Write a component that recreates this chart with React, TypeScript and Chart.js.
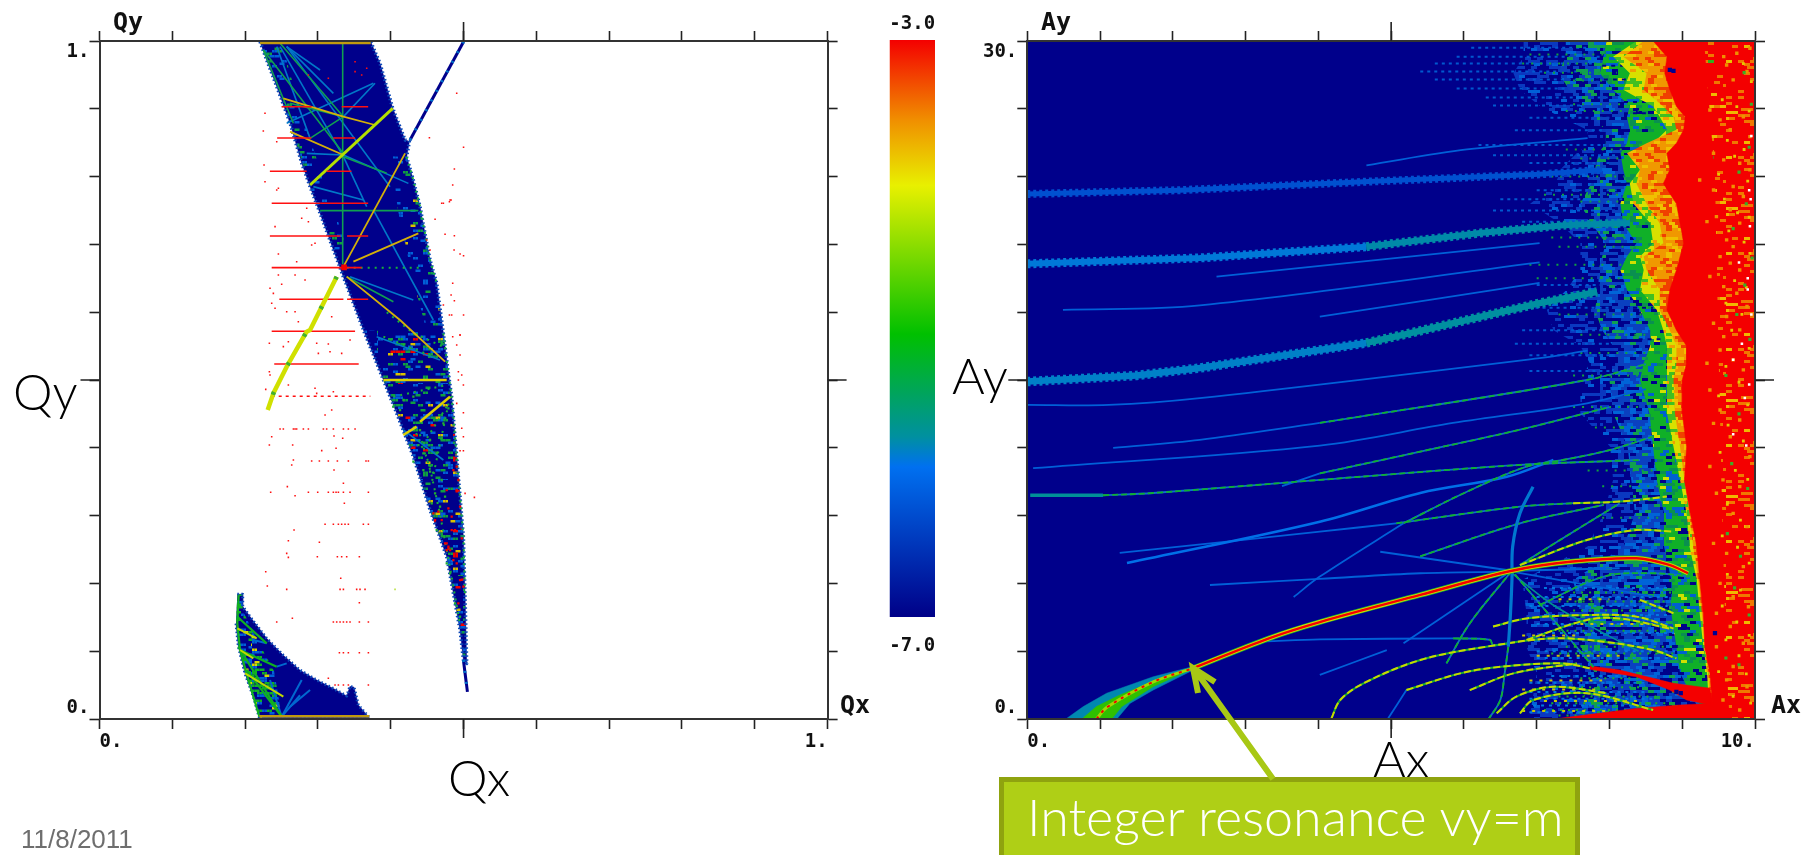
import React, { useEffect, useRef } from "react";
import { Chart, registerables } from "chart.js";

Chart.register(...registerables);

type Pt = number[];

// ---------- tune-space chart (Qx, Qy) ----------
const qTicks = { min: 0, max: 1, step: 0.1 };
const qBody: Pt[] = [[.2205,.999],[.2296,.972],[.2434,.933],[.2617,.879],[.2777,.82],[.2892,.785],[.3029,.746],[.3212,.692],[.335,.652],[.3487,.613],[.3625,.5737],[.39,.4999],[.4082,.4508],[.4311,.3869],[.454,.3082],[.4769,.2394],[.4952,.1312],[.4998,.087],[.5043,.082],[.5021,.1804],[.4998,.2689],[.4929,.3574],[.4883,.4164],[.4837,.4754],[.4792,.5098],[.4723,.5688],[.4631,.643],[.454,.677],[.4471,.716],[.4402,.756],[.431,.795],[.4219,.829],[.4256,.852],[.4197,.854],[.4027,.901],[.3853,.967],[.3725,.999]];
const qBodySpeckledLow: Pt[] = [[.3625,.5737],[.39,.4999],[.4082,.4508],[.4311,.3869],[.454,.3082],[.4769,.2394],[.4952,.1312],[.4998,.087],[.5043,.082],[.5021,.1804],[.4998,.2689],[.4929,.3574],[.4883,.4164],[.4837,.4754],[.4792,.5098],[.4723,.5688]];
const qBodySpeckledRight: Pt[] = [[.4219,.829],[.431,.795],[.4402,.756],[.454,.677],[.4631,.643],[.4723,.5688],[.45,.57],[.43,.65],[.41,.75],[.40,.83]];
const qBodySpeckledLeft: Pt[] = [[.2205,.999],[.2617,.879],[.2892,.785],[.3029,.746],[.3212,.692],[.34,.692],[.32,.76],[.30,.82],[.27,.92],[.25,.999]];
const qLowerBody: Pt[] = [[.1893,.184],[.1967,.184],[.1967,.166],[.2067,.151],[.2296,.119],[.2525,.094],[.2754,.072],[.2983,.0575],[.3212,.045],[.3395,.034],[.344,.048],[.3496,.047],[.3555,.0206],[.3706,.002],[.2196,.002],[.2113,.033],[.1999,.067],[.1907,.107],[.1875,.141]];
const qLowerSpeckled: Pt[] = [[.1875,.141],[.1893,.184],[.1967,.184],[.1967,.16],[.215,.12],[.24,.07],[.2502,.004],[.2196,.002],[.2113,.033],[.1999,.067],[.1907,.107]];
const qTails: Pt[][] = [[[.4265,.854],[.5,.999]],[[.4998,.087],[.5053,.04]]];
const qEdges: Pt[][] = [[[.2205,.997],[.3725,.997]],[[.2196,.004],[.3706,.004]]];
const qYellowGreen: Pt[][] = [[[.4027,.9007],[.2892,.7876]]];
const qYellowStreak: Pt[][] = [[[.3258,.6524],[.2892,.5737],[.2845,.5713],[.2571,.5197],[.2388,.4803],[.231,.4558]]];
const qYellow: Pt[][] = [[[.3899,.5],[.4769,.5]],[[.4402,.4385],[.4814,.4754]],[[.4173,.4189],[.4356,.4312]]];
const qOrange: Pt[][] = [[[.4197,.8343],[.335,.6672]],[[.3487,.6745],[.4379,.7163]],[[.3395,.6524],[.4127,.5885],[.4746,.527]],[[.2525,.9154],[.335,.8884],[.3784,.8761]],[[.2617,.8663],[.335,.8319]]];
const qGreen: Pt[][] = [[[.334,.9966],[.334,.672]],[[.303,.7498],[.4379,.7498]],[[.248,.9966],[.335,.8884]],[[.225,.9867],[.335,.834]],[[.225,.9867],[.2663,.8786]],[[.2892,.8564],[.335,.8884]],[[.3395,.6524],[.4036,.6155]],[[.2617,.9081],[.335,.8884]],[[.335,.8294],[.3945,.8048]]];
const qBlue: Pt[][] = [[[.2571,.9917],[.3212,.9228]],[[.2571,.9917],[.399,.785]],[[.248,.9917],[.335,.8294]],[[.335,.8319],[.4242,.79]],[[.3761,.7508],[.4585,.5885]],[[.2571,.8786],[.3761,.9376]],[[.335,.8294],[.367,.7557]],[[.3441,.6524],[.431,.618]],[[.3807,.5639],[.4677,.5295]],[[.4173,.4263],[.4723,.382]],[[.335,.8884],[.3784,.9376]],[[.2571,.9917],[.3029,.9572]],[[.2846,.8343],[.335,.8319]],[[.2937,.7852],[.3624,.7655]],[[.2434,.9917],[.2892,.8564]]];
const qGreenDashed: Pt[][] = [[[.3395,.6657],[.4448,.6657]],[[.4036,.4754],[.4769,.4926]],[[.4723,.5688],[.4792,.5098],[.4837,.4754],[.4883,.4164],[.4929,.3574],[.4998,.2689],[.5021,.1804]],[[.4219,.829],[.431,.795],[.4402,.756],[.4471,.716],[.454,.677],[.4631,.643]],[[.44,.42],[.456,.36],[.468,.3],[.482,.22],[.495,.14]],[[.4814,.4754],[.4566,.35]],[[.4769,.4607],[.4425,.4017]],[[.4311,.4312],[.4585,.3623]],[[.3899,.5639],[.4585,.5344]],[[.3945,.6],[.43,.57],[.47,.55]]];
const qGreenSpecks: Pt[] = [[.4036,.4606],[.4128,.4557],[.4174,.4705],[.4311,.4754],[.438,.4041],[.4448,.3918],[.4311,.3795],[.4448,.3672],[.454,.3648],[.47,.3525],[.4609,.3328],[.4563,.318],[.4677,.3131],[.4746,.3279],[.4631,.2787],[.4769,.2296],[.4815,.2148],[.4883,.1705],[.4952,.1509],[.4402,.4262],[.454,.4115],[.4631,.3918],[.4723,.436],[.4792,.4582]];
const qLowerGreen: Pt[][] = [[[.1907,.1067],[.2502,.0034]],[[.2022,.0723],[.2502,.0034]],[[.193,.1018],[.2434,.0772]],[[.1893,.1509],[.2296,.1116]],[[.1911,.1824],[.1893,.1411],[.193,.1018],[.2045,.0575],[.2196,.0034]]];
const qLowerYellow: Pt[][] = [[[.1893,.1337],[.2159,.1189]],[[.1999,.0674],[.2525,.0329]],[[.193,.1018],[.2113,.0895]]];
const qLowerBlue: Pt[][] = [[[.2502,.0034],[.2777,.0575]],[[.2502,.0034],[.2342,.0575]],[[.2502,.0034],[.2754,.035]],[[.2617,.0182],[.2892,.0428]],[[.2434,.0772],[.2571,.0821]],[[.2113,.1164],[.2296,.1116]]];
const qRedRows: Pt[] = [[.903,.25,.2914],[.903,.3326,.369],[.857,.244,.291],[.857,.321,.351],[.808,.234,.2846],[.808,.312,.346],[.7606,.2365,.303],[.7606,.303,.369],[.7124,.234,.331],[.7124,.34,.369],[.6657,.2365,.36],[.619,.247,.335],[.619,.34,.369],[.5718,.2365,.351],[.5236,.24,.356]];
const qRedDottedRows: Pt[] = [[.476,.2365,.372]];
const qRedColumns: Pt[] = [[.4277,.248,.2525,.2663,.2686,.2708,.28,.2869,.3075,.312,.3212,.335,.3418,.351],[.3805,.2914,.302,.3143,.3267,.3418,.366,.3693],[.3343,.2351,.2869,.2997,.3143,.3212,.3249,.3281,.335,.3441,.3693],[.2871,.3098,.3212,.3281,.3326,.3372,.3418,.3624,.3693],[.2394,.2992,.3267,.3326,.3395,.3569],[.1912,.2571,.3304,.335,.3532,.3578,.3647],[.1431,.2434,.3212,.3258,.3304,.335,.3395,.3441,.3569,.3693],[.0978,.3295,.335,.3418,.3569,.3693],[.0501,.3235,.3281,.335,.3418,.3693]];
const qRedDots: Pt[] = [[.2333,.5123],[.2342,.5074],[.2594,.4926],[.2283,.4862],[.296,.4877],[.2983,.4803],[.3212,.4828],[.3098,.4484],[.3189,.4558],[.2365,.4164],[.2333,.4041],[.2653,.4041],[.3221,.4174],[.334,.414],[.3052,.3958],[.3249,.3992],[.2663,.382],[.264,.3746],[.3221,.3672],[.335,.3476],[.258,.3427],[.2686,.3294],[.3363,.3181],[.2672,.2788],[.2594,.263],[.302,.2606],[.2571,.2443],[.2594,.2384],[.2283,.2173],[.3313,.2075],[.2305,.1962],[.3569,.1716],[.2649,.1485],[.3143,.06],[.3006,.5393],[.3166,.5418],[.3326,.5393],[.3441,.559],[.2333,.5541],[.2525,.5492],[.2594,.5565],[.2983,.5541],[.3143,.5531],[.2273,.8933],[.225,.8673],[.2434,.8515],[.226,.8171],[.2273,.7925],[.2434,.7802],[.2457,.7827],[.2846,.7532],[.2777,.7385],[.2869,.7335],[.2411,.7262],[.2914,.6991],[.296,.7016],[.2457,.6858],[.2708,.6745],[.2686,.6549],[.2823,.6475],[.2342,.6352],[.2457,.6549],[.2502,.6411],[.2388,.6278],[.2365,.6131],[.2411,.6057],[.2571,.6008],[.2686,.6008],[.3189,.5934],[.2731,.586],[.351,.9695],[.351,.9548],[.367,.9597],[.3601,.9499],[.3143,.945],[.2869,.9499],[.4531,.8574],[.4906,.9228],[.4874,.8112],[.4851,.7876],[.4723,.7606],[.4815,.7655],[.4609,.737],[.4746,.7149],[.487,.6917],[.4851,.6426],[.4837,.5959],[.4494,.7065],[.454,.6917],[.5,.8432],[.4829,.7655],[.4806,.763],[.47,.7606],[.4874,.7129],[.4952,.6858],[.5,.6834],[.4829,.6254],[.4874,.617],[.4723,.6106],[.4806,.5959],[.5,.5959],[.4952,.5664],[.4851,.5639],[.4952,.5663],[.4906,.5516],[.4952,.5368],[.4929,.5122],[.4975,.5073],[.4929,.4999],[.4998,.4926],[.4906,.4655],[.4998,.4518],[.4975,.4287],[.4998,.4164],[.4952,.3957],[.4998,.3957],[.5021,.3328],[.5149,.3269]];
const qRedInside: Pt[] = [[.486,.3672],[.4906,.3721],[.4929,.3525],[.4769,.3377],[.4654,.3058],[.4609,.2935],[.4792,.3107],[.4837,.2984],[.4792,.2541],[.4815,.2492],[.4746,.259],[.4906,.2296],[.4952,.205],[.4929,.1705],[.4998,.1951],[.4883,.2787],[.4975,.2664],[.4906,.3377],[.4952,.3131],[.4586,.3033],[.47,.2935],[.4837,.2787],[.4769,.259],[.486,.2345],[.4792,.2517],[.4769,.2492]];
const qRedKnot: Pt[] = [[.3359,.6662]];
const qStrayDot: Pt[] = [[.4059,.1912]];

// ---------- amplitude chart (Ax, Ay) ----------
const aFringeAy = [30,29.3,28.57,27.84,27.1,26.65,26.07,25.48,25.03,24.3,23.7,22.8,21.94,21.05,20.46,19.87,18.99,18.1,17.2,16.5,15.74,15.0,13.53,12.05,10.58,9.1,7.63,6.15,4.68,3.2,2.02,0];
const aBlueEdge = [6.82,6.82,6.68,6.77,7.05,7.32,7.69,7.73,7.55,7.32,7.27,6.91,7.32,7.6,7.6,7.6,7.41,7.14,7.23,7.6,7.73,7.6,7.6,8.01,8.05,7.92,7.7,6.8,6.86,6.86,7.0,6.9];
const aMidEdge = [7.4,7.4,7.3,7.45,7.6,7.75,7.95,7.95,7.85,7.8,7.75,7.6,7.75,7.95,7.9,7.85,7.85,7.8,7.9,8.05,8.1,8.0,8.05,8.25,8.3,8.35,8.2,7.5,7.6,7.6,7.8,7.5];
const aGreenEdge = [7.96,7.92,7.87,8.05,8.28,8.24,8.28,8.24,8.15,8.19,8.24,8.15,8.19,8.37,8.24,8.15,8.24,8.42,8.56,8.56,8.47,8.42,8.55,8.6,8.65,8.75,8.75,8.85,8.85,8.92,8.97,9.3];
const aYellowEdge = [8.37,8.05,8.28,8.19,8.6,8.69,8.79,8.6,8.28,8.42,8.28,8.33,8.56,8.6,8.42,8.47,8.42,8.65,8.74,8.79,8.79,8.79,8.79,8.88,8.97,9.06,9.1,9.2,9.24,9.29,9.34,9.38];
const aOrangeEdge = [8.47,8.19,8.51,8.47,8.74,8.88,8.92,8.51,8.24,8.42,8.37,8.51,8.69,8.74,8.47,8.51,8.69,8.69,8.83,8.92,8.92,8.88,8.9,8.97,9.03,9.1,9.15,9.22,9.27,9.31,9.36,9.4];
const aRedEdge = [8.6,8.79,8.76,8.83,8.92,9.04,9.02,8.92,8.79,8.83,8.74,8.92,8.97,9.02,8.97,8.92,8.83,8.79,8.92,9.06,9.06,9.0,9.0,9.06,9.03,9.11,9.2,9.24,9.29,9.31,9.38,9.43];
const aSpeckBand: Pt[] = [[9.3,30],[9.45,24],[9.5,16],[9.55,9],[9.6,3],[9.65,0],[10,0],[10,30]];
const aRedWedge: Pt[] = [[7.73,2.35],[8.14,2.17],[8.88,1.58],[9.38,1.36],[9.43,.6],[9.06,.84],[8.83,1.28],[8.37,1.87],[7.73,2.2]];
const aRedFoot: Pt[] = [[7.32,.03],[8.37,.47],[8.97,.62],[9.43,.7],[9.43,0]];
const aTealWedge: Pt[] = [[.53,0],[.77,.55],[1.09,1.14],[1.73,1.87],[2.28,2.32],[2.28,2.17],[1.73,1.28],[1.41,.69],[1.23,0]];
const aGreenWedge: Pt[] = [[.75,0],[.95,.55],[1.27,1.06],[1.73,1.65],[2.28,2.24],[1.73,1.43],[1.3,.55],[1.16,0]];
const aBandA: Pt[] = [[0,23.23],[2.1,23.4],[4.84,23.8],[7.04,24.1],[7.9,24.3]];
const aBandBLeft: Pt[] = [[0,20.14],[2.37,20.4],[4.66,20.9]];
const aBandBRight: Pt[] = [[4.66,20.9],[6.22,21.5],[7.37,21.85],[8.28,21.95]];
const aBandCLeft: Pt[] = [[0,14.93],[1.5,15.2],[2.37,15.53],[4.66,16.64]];
const aBandCRight: Pt[] = [[4.66,16.64],[5.16,17.0],[7.04,18.4],[7.83,18.9]];
const aTealStub: Pt[][] = [[[.04,9.9],[1.04,9.9]]];
const aMainResonance: Pt[] = [[2.28,2.25],[3.33,3.58],[4.02,4.29],[5.4,5.49],[6.66,6.56],[7.46,6.96],[8.37,7.11],[8.83,6.81],[9.08,6.45]];
const aMainStart: Pt[] = [[.95,0],[1.1,.53],[1.73,1.64],[2.28,2.25]];
const aVerticalArc: Pt[] = [[6.95,10.28],[6.77,9.1],[6.67,7.63],[6.66,6.15],[6.64,4.68],[6.61,3.2]];
const aBlueThin: Pt[][] = [
  [[4.66,24.5],[6.04,25.2],[7.7,25.7]],
  [[2.6,19.57],[7.04,21.06]],
  [[.49,18.1],[2.37,18.3],[7.04,20.2]],
  [[4.02,17.8],[7.04,19.3]],
  [[0,13.9],[1.12,13.9],[2.37,14.2],[7.04,15.97],[7.7,16.3]],
  [[.08,11.1],[4.02,12.1],[5.85,13.1],[7.69,13.97],[8.5,14.6]],
  [[1.18,12.0],[2.37,12.35],[4.02,13.1]],
  [[3.5,10.3],[4.02,10.87]],
  [[3.66,5.4],[4.02,6.3],[5.17,8.66]],
  [[1.27,7.35],[4.02,8.29],[5.07,8.66]],
  [[2.51,5.93],[4.02,6.2],[5.4,6.45],[6.63,6.52]],
  [[3.28,3.44],[4.02,3.52],[5.85,3.57]],
  [[4.96,.03],[5.21,1.28]],
  [[4.02,1.95],[4.94,3.05]],
  [[4.85,7.4],[6.66,6.56]],
  [[5.17,3.35],[6.58,6.4]],
  [[6.7,6.5],[8.6,5.41]],
  [[6.7,6.56],[8.14,6.67]],
];
const aBlueBold: Pt[][] = [[[1.37,6.9],[4.02,8.73],[5.4,10],[6.59,10.72],[7.23,11.46]]];
const aGreenThin: Pt[][] = [
  [[4.02,13.1],[7.69,15.0],[8.5,15.7]],
  [[4.02,10.87],[5.4,11.83],[6.77,12.8],[8.0,13.8]],
  [[1.04,9.9],[1.73,10],[4.02,10.58],[6.77,11.24],[8.42,11.46]],
  [[5.17,8.66],[5.99,9.98],[6.86,11.17],[7.36,11.46],[8.0,11.9],[8.6,12.5]],
  [[5.07,8.66],[6.77,9.4],[7.5,9.55]],
  [[5.4,7.2],[6.77,8.66],[7.92,9.47]],
  [[6.77,6.81],[7.46,8.2],[8.14,9.54]],
  [[7.04,5.04],[7.92,6.3],[8.6,6.45],[9.1,6.3]],
  [[5.85,3.57],[6.36,3.5],[6.4,3.27],[6.63,3.35]],
  [[6.66,6.56],[6.08,4.23],[5.76,2.46]],
  [[6.7,6.4],[7.78,2.3]],
  [[6.61,3.2],[6.56,2.02],[6.5,.84],[6.34,0]],
];
const aYellowThin: Pt[][] = [
  [[7.5,9.55],[8.14,9.62],[8.79,9.84]],
  [[6.77,6.81],[7.69,7.92],[8.37,8.36],[8.88,8.29]],
  [[4.18,.03],[4.3,.84],[4.62,1.58],[5.4,2.61],[6.31,3.2],[7.23,3.57],[7.92,3.42],[8.6,3.05],[8.92,2.68]],
  [[5.21,1.28],[5.95,2.02],[6.54,2.32],[7.37,2.46],[7.73,2.24]],
  [[6.08,1.28],[6.68,2.02],[7.55,2.46]],
  [[6.45,.25],[6.72,.99],[7.23,1.43],[7.96,1.14]],
  [[6.77,.25],[6.95,.84],[7.69,1.14],[8.6,.4]],
  [[6.4,4.09],[6.86,4.45],[7.69,4.6],[8.37,4.53],[8.88,4.0]],
  [[6.86,3.5],[7.69,4.38],[8.14,4.45],[8.83,4.0]],
  [[8.42,5.27],[8.88,4.68]],
];
const aTealThin: Pt[][] = [[[6.64,6.5],[7.2,5.1],[7.8,4.0],[8.4,3.0]]];
const aBlueRows: Pt[] = [[29.7,6.1,8],[29.3,5.9,8],[29,5.6,8],[28.65,5.4,8],[28.3,5.6,8],[27.9,5.9,8],[27.5,6.3,8],[27.15,6.4,8],[26.6,6.9,8],[26.05,6.7,8],[25.4,6.2,8.2],[24.95,6.4,8.1],[24.6,6.9,8.1],[23.4,7,8.2],[23,6.5,8.2],[22.5,6.4,8.2],[22,6.8,8.2],[19.2,7,8.2],[18.2,6.6,8.3],[17.2,6.8,8.4],[16.6,6.7,8.4],[16.1,6.9,8.4],[15.4,6.9,8.4]];
const aGreenRows: Pt[] = [[29.4,6.9,8.2],[29,6.8,8.1],[28.6,7.1,8.1],[28.25,7.5,8.2],[27.2,7.5,8.3],[26.9,7.4,8.4],[25.2,7.4,8.2],[24.8,7.6,8.2],[24,7.2,8.2],[23.2,7.1,8.2],[22.9,7.6,8.3],[21.3,7.2,8.3],[20.9,7.3,8.3],[20.1,6.9,8.3],[19.5,7,8.3],[17.9,7.3,8.5],[17,7.6,8.6],[16.2,7.6,8.5],[15.2,7.5,8.4],[13.8,7.5,8.4],[12.9,7.8,8.6],[11,7.7,8.6],[10.3,7.9,8.7],[8.9,7.9,8.7]];
const aNavyRows: Pt[] = [[28.9,7.9,8.5],[28.3,7.8,8.4],[27.3,8.2,8.7],[26.8,8.2,8.5],[25,8.2,8.4],[23.7,8.1,8.4],[18.2,8.2,8.6],[16.8,8.4,8.7]];
const aDomeBlueRows: Pt[] = [[5.8,7.1,8.9],[5.4,7,8.9],[5,6.9,8.8],[4.6,7.1,9],[4.2,7,8.9],[3.8,7.1,8.9],[3,7,8.9],[2.7,7,8.8],[1.9,7.2,8.3],[1.6,6.9,8.5],[1.2,6.9,8.5],[.9,6.9,8.6],[.6,6.95,8.7],[.3,6.9,8.9]];
const aDomeGreenRows: Pt[] = [[5.6,7.5,9.1],[5.2,7.3,9.1],[4.8,7.5,9.2],[3.9,7.3,9.2],[3.2,7.4,9.2],[2.9,7.2,9.1],[1.8,7.6,8.4],[1.4,7.5,8.5],[1,7.3,8.7],[.7,7.2,8.8],[.4,7.1,8.9],[.15,7.3,8.8]];
const aDomeYellowRows: Pt[] = [[5.3,7.3,8],[4.2,7.6,8.6],[3.7,6.8,7.6],[2.8,7,8.2],[1.7,6.9,7.9],[1.3,6.8,7.9],[.8,7.1,8.4],[.35,6.8,8]];
const aOrangeSpecks: Pt[] = [[9.57,29.31],[9.75,29.46],[9.93,29.68],[9.61,28.94],[9.7,28.28],[9.89,28.65],[9.38,26.95],[9.52,26.51],[9.66,26.07],[9.84,26.65],[9.93,25.77],[9.43,25.03],[9.57,24.74],[9.79,24.59],[9.93,24.3],[9.24,23.85],[9.43,23.41],[9.7,23.56],[9.84,23.12],[9.66,22.53],[9.47,22.23],[9.79,21.94],[9.61,21.2],[9.7,20.9],[9.34,22.01],[9.52,20.46],[9.66,20.17],[9.79,19.87],[9.38,19.58],[9.57,19.13],[9.75,18.84],[9.89,18.25],[9.61,17.81],[9.43,17.51],[9.57,16.92],[9.79,17.22],[9.52,16.33],[9.7,15.89],[9.84,15.45],[9.34,15.74],[9.38,14.56],[9.52,13.67],[9.79,13.23],[9.43,13.08],[9.66,12.49],[9.93,11.61],[9.38,11.17],[9.56,10.58],[9.79,10.28],[9.47,9.99],[9.7,9.1],[9.89,8.51],[9.43,7.77],[9.61,7.33],[9.84,6.74],[9.52,6],[9.7,5.41],[9.91,4.97],[9.47,4.68],[9.66,4.09],[9.84,3.35],[9.47,3.2],[9.7,2.32],[9.61,1.73],[9.89,1.43],[9.56,.84],[9.79,.4]];
const aYellowSpecks: Pt[] = [[9.66,29.1],[9.84,29.0],[9.95,28.2],[9.55,27.4],[9.75,27.1],[9.92,26.9],[9.62,25.6],[9.85,25.2],[9.72,24.9],[9.5,24.1],[9.9,23.8],[9.58,23],[9.76,22.4],[9.92,22.2],[9.64,21.6],[9.85,21.1],[9.93,20.6],[9.72,19.4],[9.88,19.1],[9.6,18.4],[9.82,17.9],[9.68,17.2],[9.92,16.4],[9.6,15.6],[9.78,14.9],[9.5,14.3],[9.9,13.9],[9.63,13],[9.84,12.3],[9.52,11.8],[9.73,11],[9.9,10.6],[9.62,9.5],[9.8,8.8],[9.55,8.1],[9.76,7.6],[9.92,6.9],[9.62,6.4],[9.8,5.7],[9.55,5],[9.75,4.3],[9.92,3.7],[9.6,3.5],[9.78,2.8],[9.5,2.1],[9.88,2],[9.7,1],[9.94,.7]];
const aGreenSpecks: Pt[] = [[9.85,28.6],[9.95,27.2],[9.92,25.3],[9.78,24.2],[9.88,22.8],[9.7,21.7],[9.96,20.4],[9.86,19.2],[9.75,17.9],[9.93,16.8],[9.6,15.2],[9.78,13.5],[9.68,11.3],[9.9,10.2],[9.62,8.2],[9.8,7.2],[9.72,5.8],[9.92,4.6],[9.78,2.4],[9.6,2.7]];
const aWhiteSpecks: Pt[] = [[9.95,25.8],[9.92,23.4],[9.94,23],[9.93,21.8],[9.78,20.2],[9.9,19.5],[9.9,19],[9.95,17.9],[9.82,16.6],[9.7,15.9],[9.92,14.8],[9.86,14.2],[9.7,12.6],[9.88,12.1]];
const aNavySpots: Pt[] = [[8.83,28.72],[8.88,28.68],[8.92,1.2],[8.98,1.15],[9.45,3.8]];

// ---------- colour bar ----------
const barRect: Pt[] = [[0,-7],[1,-7],[1,-3],[0,-3]];
const barTopLabel = "-3.0";
const barBottomLabel = "-7.0";
const barStops = [-3, -3.56, -4.01, -5.04, -5.75, -5.96, -7];
const barColors = ["#f40000", "#f09000", "#e8f000", "#00c000", "#0090a0", "#0070f0", "#000088"];

// ---------- helpers ----------
const polygonFrom = (ax: number[]): Pt[] => [...aFringeAy.map((y, i) => [ax[i], y]), [10, 0], [10, 30]];
const rowSeg = (r: Pt): Pt[] => [[r[1], r[0]], [r[2], r[0]]];
const colDots = (rows: Pt[]): Pt[] => rows.flatMap((r) => r.slice(1).map((x) => [x, r[0]]));

const line = (data: Pt[], color: string, width: number, dash: number[] = [], tension = 0) => ({
  data, showLine: true, borderColor: color, borderWidth: width, borderDash: dash,
  pointRadius: 0, fill: false, tension, borderCapStyle: "butt", borderJoinStyle: "round",
});
const curve = (data: Pt[], color: string, width: number, dash: number[] = []) => line(data, color, width, dash, 0.35);
const poly = (data: Pt[], color: any) => ({
  data, showLine: true, fill: "shape", backgroundColor: color, borderColor: typeof color === "string" ? color : "rgba(0,0,0,0)", borderWidth: typeof color === "string" ? 0.5 : 0, pointRadius: 0, tension: 0,
});
const dots = (data: Pt[], color: string, r: number) => ({
  data, showLine: false, pointRadius: r, pointStyle: "rect", backgroundColor: color, borderColor: color, pointBorderWidth: 0,
});

// A repeating speckle tile used as a fill style, like the mottled pixels of the scan.
function speckle(mix: [string, number][], cell = 3): CanvasPattern | string {
  const W = 126, H = 96;
  const tile = document.createElement("canvas");
  tile.width = W; tile.height = H;
  const c = tile.getContext("2d");
  if (!c) return mix[0][0];
  for (let j = 0; j * cell < H; j++) {
    for (let i = 0; i * cell < W; i++) {
      const s = Math.sin(Math.floor((i + (j % 3)) / 2) * 12.9898 + j * 78.233) * 43758.5453;
      const h = s - Math.floor(s);
      let acc = 0;
      for (const [color, share] of mix) {
        acc += share;
        if (h < acc) {
          c.fillStyle = color;
          c.fillRect(i * cell, j * cell, cell, cell);
          break;
        }
      }
    }
  }
  return c.createPattern(tile, "repeat") as CanvasPattern;
}

const NAVY = "#00008b";
const RED = "#f40000";

const leftDatasets = () => [
  poly(qBody, NAVY), poly(qLowerBody, NAVY),
  poly(qBodySpeckledLow, speckle([["#10a040", .09], ["#0060d8", .12], ["#d8c000", .025], ["#f00000", .02]], 2.5)),
  poly(qBodySpeckledRight, speckle([["#10a040", .05], ["#0060d8", .06], ["#d8c000", .015]], 2.5)),
  poly(qBodySpeckledLeft, speckle([["#0060d8", .08], ["#10a040", .05]], 2.5)),
  poly(qLowerSpeckled, speckle([["#10b028", .22], ["#0060d8", .2], ["#d8d800", .07]], 2.5)),
  line(qBody, "#0a48b8", 3.5, [1.5, 2.5]),
  line(qLowerBody, "#0a48b8", 3, [1.5, 2.5]),
  ...qTails.map((d) => line(d, NAVY, 3)),
  ...qTails.map((d) => line(d, "#0070c8", 3, [2, 9])),
  ...qBlue.map((d) => line(d, "#0078c8", 1.6)),
  ...qGreen.map((d) => line(d, "#10a050", 1.6)),
  ...qGreenDashed.map((d) => line(d, "#18b038", 2, [2, 5])),
  dots(qGreenSpecks, "#20b030", 1.6),
  ...qOrange.map((d) => line(d, "#d4b008", 1.8)),
  ...qYellowGreen.map((d) => line(d, "#b4e000", 3)),
  ...qYellow.map((d) => line(d, "#dcd000", 2.6)),
  ...qLowerBlue.map((d) => line(d, "#0068d0", 2)),
  ...qLowerGreen.map((d) => line(d, "#10b020", 2.2)),
  ...qLowerYellow.map((d) => line(d, "#c0d800", 2)),
  ...qEdges.map((d) => line(d, "#c09a10", 2.5)),
  ...qRedRows.map((r) => line(rowSeg(r), "#ff1010", 1.6)),
  ...qRedDottedRows.map((r) => line(rowSeg(r), "#ff1010", 1.6, [3, 4])),
  dots(colDots(qRedColumns), "#ff1010", 1.1),
  dots(qRedDots, "#ff1010", 1.1),
  dots(qRedInside, "#f00000", 1.6),
  ...qYellowStreak.map((d) => line(d, "#d0e000", 4.5)),
  ...qYellowStreak.map((d) => line(d, "#40b030", 4.5, [3, 30])),
  dots(qRedKnot, "#f40000", 4),
  dots(qStrayDot, "#b8e040", 1.1),
];

const serrated = (d: Pt[], color: string, w: number) => [line(d, color, w + 3, [3, 3]), line(d, color, w)];

const rightDatasets = () => [
  poly(polygonFrom(aBlueEdge), speckle([["#0a38c0", .3], ["#0060d8", .1]])),
  ...aBlueRows.map((r) => line(rowSeg(r), "#0058d0", 2, [3, 4])),
  poly(polygonFrom(aMidEdge), speckle([["#0a40c0", .4], ["#0064d8", .2], ["#10a050", .14]])),
  ...aGreenRows.map((r) => line(rowSeg(r), "#10a040", 2, [2, 7])),
  ...aDomeBlueRows.map((r) => line(rowSeg(r), "#0078e0", 2, [3, 5])),
  ...aDomeGreenRows.map((r) => line(rowSeg(r), "#18b028", 2, [2, 6])),
  ...aDomeYellowRows.map((r) => line(rowSeg(r), "#c8c800", 2, [3, 7])),
  poly(polygonFrom(aGreenEdge), speckle([["#10b028", .58], ["#0a9050", .16], ["#0060d0", .12], ["#d0e000", .06]])),
  ...aNavyRows.map((r) => line(rowSeg(r), NAVY, 2, [4, 5])),
  poly(polygonFrom(aYellowEdge), speckle([["#d8e000", .55], ["#40c020", .33], ["#f0a000", .12]])),
  poly(polygonFrom(aOrangeEdge), speckle([["#f09800", .5], ["#f0c000", .2], ["#f04000", .3]])),
  poly(polygonFrom(aRedEdge), RED),
  poly(aSpeckBand, speckle([["#f07800", .11], ["#f0b800", .05], ["#30b020", .006]])),
  poly(aRedWedge, RED), poly(aRedFoot, RED),
  ...serrated(aBandA, "#0050d0", 5),
  ...serrated(aBandBLeft, "#0078d8", 6), ...serrated(aBandBRight, "#008aa8", 6),
  ...serrated(aBandCLeft, "#0080c8", 6.5), ...serrated(aBandCRight, "#0090a0", 6.5),
  ...aTealStub.map((d) => line(d, "#009098", 3.5)),
  ...aBlueThin.map((d) => curve(d, "#0060d8", 1.8)),
  ...aBlueBold.map((d) => curve(d, "#0070e8", 2.6)),
  ...aTealThin.map((d) => curve(d, "#009090", 1.6)),
  ...aGreenThin.map((d) => curve(d, "#1070c8", 1.8)),
  ...aGreenThin.map((d) => curve(d, "#10b030", 1.8, [6, 3])),
  ...aYellowThin.map((d) => curve(d, "#18b030", 2)),
  ...aYellowThin.map((d) => curve(d, "#c8d800", 2, [7, 3])),
  curve(aVerticalArc, "#0078d0", 3.2),
  poly(aTealWedge, "#0088b0"), poly(aGreenWedge, "#30c000"),
  curve(aMainResonance, "#20b030", 5.5), curve(aMainResonance, "#d8e000", 4), curve(aMainStart, "#a0d800", 3),
  curve(aMainResonance, RED, 2.4), curve(aMainStart, RED, 2, [3, 5]),
  dots(aOrangeSpecks, "#f09000", 2.4),
  dots(aYellowSpecks, "#e8c800", 2),
  dots(aGreenSpecks, "#38b028", 2.2),
  dots(aWhiteSpecks, "#ffffff", 1.8),
  dots(aNavySpots, "#000090", 3),
];

const MONO = "'DejaVu Sans Mono', 'Liberation Mono', monospace";
const tickFont = { family: MONO, size: 19, weight: "bold", lineHeight: "22px" };

const frameBg = (color: string) => ({
  id: "frameBg",
  beforeDatasetsDraw(chart: any) {
    const { ctx, chartArea: a } = chart;
    ctx.save();
    ctx.fillStyle = color;
    ctx.fillRect(a.left, a.top, a.right - a.left, a.bottom - a.top);
    ctx.restore();
  },
});
const midTicks = {
  id: "midTicks",
  afterDraw(chart: any) {
    const { ctx, chartArea: a, scales } = chart;
    const x = scales.x.getPixelForValue((scales.x.min + scales.x.max) / 2);
    const y = scales.y.getPixelForValue((scales.y.min + scales.y.max) / 2);
    const len = 19;
    ctx.save();
    ctx.strokeStyle = "#222";
    ctx.lineWidth = 1.6;
    ctx.beginPath();
    ctx.moveTo(x, a.top); ctx.lineTo(x, a.top - len);
    ctx.moveTo(x, a.bottom); ctx.lineTo(x, a.bottom + len);
    ctx.moveTo(a.left, y); ctx.lineTo(a.left - len, y);
    ctx.moveTo(a.right, y); ctx.lineTo(a.right + len, y);
    ctx.stroke();
    ctx.restore();
  },
};

function plotOptions(xMax: number, xStep: number, yMax: number, yStep: number, pad: any, xEnd: string, yEnd: string) {
  const grid = { drawOnChartArea: false, drawTicks: true, tickLength: 10, tickColor: "#222", tickWidth: 1.6, z: 1 };
  const border = { display: true, color: "#333", width: 2, z: 1 };
  return {
    responsive: false, animation: false, events: [], parsing: true,
    layout: { padding: 0 },
    plugins: { legend: { display: false }, tooltip: { enabled: false } },
    scales: {
      x: {
        type: "linear", position: "bottom", min: 0, max: xMax, grid, border,
        ticks: {
          stepSize: xStep, autoSkip: false, maxRotation: 0, align: "inner", padding: 2,
          font: tickFont, color: "#111",
          callback: (v: number) => (v === 0 ? "0." : Math.abs(v - xMax) < 1e-6 ? xEnd : ""),
        },
        afterFit: (s: any) => { s.height = pad.bottom; },
      },
      xTop: {
        type: "linear", axis: "x", position: "top", min: 0, max: xMax, grid, border,
        ticks: { stepSize: xStep, display: false, autoSkip: false },
        afterFit: (s: any) => { s.height = pad.top; },
      },
      y: {
        type: "linear", position: "left", min: 0, max: yMax, grid, border,
        ticks: {
          stepSize: yStep, autoSkip: false, padding: 0, font: tickFont, color: "#111",
          callback: (v: number) => (v === 0 ? ["0.", ""] : Math.abs(v - yMax) < 1e-6 ? ["", yEnd] : ""),
        },
        afterFit: (s: any) => { s.width = pad.left; },
      },
      yRight: {
        type: "linear", axis: "y", position: "right", min: 0, max: yMax, grid, border,
        ticks: { stepSize: yStep, display: false, autoSkip: false },
        afterFit: (s: any) => { s.width = pad.right; },
      },
    },
  };
}

function barOptions() {
  const hidden = { display: false };
  const barTick = (label: string, padding: number) => ({
    stepSize: 0.5, autoSkip: false, maxRotation: 0, padding, font: tickFont, color: "#111",
    callback: (v: number) => (v === 0.5 ? label : ""),
  });
  return {
    responsive: false, animation: false, events: [],
    layout: { padding: 0 },
    plugins: { legend: { display: false }, tooltip: { enabled: false } },
    scales: {
      x: {
        type: "linear", position: "bottom", min: 0, max: 1, border: hidden,
        grid: { drawOnChartArea: false, drawTicks: false },
        ticks: barTick(barBottomLabel, 18),
        afterFit: (s: any) => { s.height = 238; },
      },
      xTop: {
        type: "linear", axis: "x", position: "top", min: 0, max: 1, border: hidden,
        grid: { drawOnChartArea: false, drawTicks: false },
        ticks: barTick(barTopLabel, 5),
        afterFit: (s: any) => { s.height = 40; },
      },
      y: {
        type: "linear", position: "left", min: -7, max: -3, border: hidden, grid: hidden,
        ticks: { display: false },
        afterFit: (s: any) => { s.width = 29.5; },
      },
      yRight: {
        type: "linear", axis: "y", position: "right", min: -7, max: -3, border: hidden, grid: hidden,
        ticks: { display: false },
        afterFit: (s: any) => { s.width = 35; },
      },
    },
  };
}

const full: React.CSSProperties = { position: "absolute", whiteSpace: "nowrap", lineHeight: 1 };
const corner: React.CSSProperties = { ...full, fontFamily: MONO, fontWeight: 700, fontSize: 25, color: "#111" };
const big: React.CSSProperties = { ...full, fontFamily: "Lato, 'Open Sans', sans-serif", fontWeight: 300, fontSize: 50, color: "#000" };

export default function App() {
  const leftRef = useRef<HTMLCanvasElement>(null);
  const barRef = useRef<HTMLCanvasElement>(null);
  const rightRef = useRef<HTMLCanvasElement>(null);

  useEffect(() => {
    const left = new Chart(leftRef.current as any, {
      type: "scatter",
      data: { datasets: leftDatasets().reverse() as any },
      options: plotOptions(qTicks.max, qTicks.step, qTicks.max, qTicks.step, { left: 99.5, right: 32.4, top: 41, bottom: 136 }, "1.", "1.") as any,
      plugins: [midTicks],
    });
    const right = new Chart(rightRef.current as any, {
      type: "scatter",
      data: { datasets: rightDatasets().reverse() as any },
      options: plotOptions(10, 1, 30, 3, { left: 57.3, right: 57, top: 41, bottom: 136 }, "10.", "30.") as any,
      plugins: [frameBg(NAVY), midTicks],
    });
    const barFill = (c: any) => {
      const a = c.chart.chartArea;
      if (!a || !Number.isFinite(a.top) || !Number.isFinite(a.bottom)) return barColors[0];
      const g = c.chart.ctx.createLinearGradient(0, a.top, 0, a.bottom);
      barStops.forEach((v, i) => g.addColorStop((-3 - v) / 4, barColors[i]));
      return g;
    };
    const bar = new Chart(barRef.current as any, {
      type: "scatter",
      data: { datasets: [{ ...poly(barRect, barFill), borderWidth: 0 }] as any },
      options: barOptions() as any,
    });
    return () => { left.destroy(); right.destroy(); bar.destroy(); };
  }, []);

  return (
    <div style={{ position: "fixed", left: 0, top: 0, width: 1812, height: 855, overflow: "hidden", background: "#fff" }}>
      <canvas ref={leftRef} width={860} height={855} style={{ position: "absolute", left: 0, top: 0, width: 860, height: 855 }} />
      <canvas ref={barRef} width={110} height={855} style={{ position: "absolute", left: 860, top: 0, width: 110, height: 855 }} />
      <canvas ref={rightRef} width={842} height={855} style={{ position: "absolute", left: 970, top: 0, width: 842, height: 855 }} />

      <span style={{ ...corner, left: 113, top: 9 }}>Qy</span>
      <span style={{ ...corner, left: 840, top: 692 }}>Qx</span>
      <span style={{ ...corner, left: 1041, top: 9 }}>Ay</span>
      <span style={{ ...corner, left: 1771, top: 692 }}>Ax</span>

      <span style={{ ...big, left: 13, top: 366 }}>Qy</span>
      <span style={{ ...big, left: 448, top: 752 }}>Qx</span>
      <span style={{ ...big, left: 952, top: 350 }}>Ay</span>
      <span style={{ ...big, left: 1373, top: 733 }}>Ax</span>

      <span style={{ ...full, left: 21, top: 826, fontFamily: "'Liberation Sans', Arial, sans-serif", fontSize: 26, color: "#6e6e6e" }}>11/8/2011</span>

      <div style={{ position: "absolute", left: 999, top: 777, width: 581, height: 90, boxSizing: "border-box", background: "#afcf16", border: "5px solid #8fa30f" }} />
      <span style={{ ...full, left: 1027, top: 790, fontFamily: "Lato, 'Open Sans', sans-serif", fontWeight: 300, fontSize: 52, color: "#fff" }}>Integer resonance vy=m</span>

      <svg width={1812} height={855} style={{ position: "absolute", left: 0, top: 0, pointerEvents: "none" }}>
        <path d="M1273 779 L1195 670 M1215 682 L1193 668 L1198 693" fill="none" stroke="#a8c814" strokeWidth={6} />
      </svg>
    </div>
  );
}
